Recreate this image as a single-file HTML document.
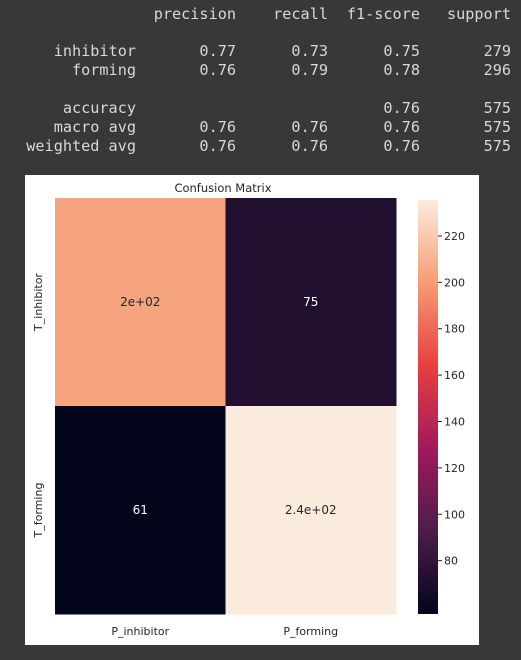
<!DOCTYPE html>
<html><head><meta charset="utf-8"><style>
body{margin:0;width:521px;height:660px;background:#383838;overflow:hidden;font-family:"DejaVu Sans Mono",monospace}
.ln{position:absolute;left:0;width:521px;height:19px;font-size:15.2px;color:#d8d8d8;white-space:pre}
.c{position:absolute;text-align:right}
</style></head><body>
<div>
<div class="ln" style="top:5px"><span class="c" style="right:285px">precision</span><span class="c" style="right:193px">recall</span><span class="c" style="right:101px">f1-score</span><span class="c" style="right:10px">support</span></div>
<div class="ln" style="top:42px"><span class="c" style="right:385px">inhibitor</span><span class="c" style="right:285px">0.77</span><span class="c" style="right:193px">0.73</span><span class="c" style="right:101px">0.75</span><span class="c" style="right:10px">279</span></div>
<div class="ln" style="top:61px"><span class="c" style="right:385px">forming</span><span class="c" style="right:285px">0.76</span><span class="c" style="right:193px">0.79</span><span class="c" style="right:101px">0.78</span><span class="c" style="right:10px">296</span></div>
<div class="ln" style="top:99px"><span class="c" style="right:385px">accuracy</span><span class="c" style="right:101px">0.76</span><span class="c" style="right:10px">575</span></div>
<div class="ln" style="top:118px"><span class="c" style="right:385px">macro avg</span><span class="c" style="right:285px">0.76</span><span class="c" style="right:193px">0.76</span><span class="c" style="right:101px">0.76</span><span class="c" style="right:10px">575</span></div>
<div class="ln" style="top:137px"><span class="c" style="right:385px">weighted avg</span><span class="c" style="right:285px">0.76</span><span class="c" style="right:193px">0.76</span><span class="c" style="right:101px">0.76</span><span class="c" style="right:10px">575</span></div>
</div>
<svg id="chart" style="position:absolute;left:25px;top:175px" width="454" height="470" font-family="DejaVu Sans, sans-serif">
<defs><linearGradient id="rk" x1="0" y1="1" x2="0" y2="0">
<stop offset="0" stop-color="#03051A"/><stop offset="0.2" stop-color="#4C1D4B"/><stop offset="0.4" stop-color="#A11A5B"/><stop offset="0.6" stop-color="#E83F3F"/><stop offset="0.8" stop-color="#F69C73"/><stop offset="1" stop-color="#FAEBDD"/>
</linearGradient></defs>
<rect width="454" height="470" fill="#fff"/>
<text x="198" y="17" text-anchor="middle" font-size="11.5" fill="#262626">Confusion Matrix</text>
<g id="cells"></g>
<rect x="393" y="25" width="20" height="414" fill="url(#rk)"/>
<g id="cbticks"></g>
</svg>
<script>
const rowLabels=["T_inhibitor","T_forming"];
const colLabels=["P_inhibitor","P_forming"];
const values=[[204,75],[61,235]];
const valueLabels=[["2e+02","75"],["61","2.4e+02"]];
const cbTicks=[80,100,120,140,160,180,200,220];
const NS="http://www.w3.org/2000/svg";
const flat=values.flat(),vmin=Math.min(...flat),vmax=Math.max(...flat);
const cbMin=vmin-4,cbMax=vmax+0.5;
const X0=30,Y0=23,W=341,H=416,cb0=25,cb1=439;
const stops=[[0,[3,5,26]],[0.2,[76,29,75]],[0.4,[161,26,91]],[0.6,[232,63,63]],[0.8,[246,156,115]],[1,[250,235,221]]];
function cmap(v){let t=(v-vmin)/(vmax-vmin);t=Math.max(0,Math.min(1,t));
for(let i=1;i<stops.length;i++){if(t<=stops[i][0]){const a=stops[i-1],b=stops[i],f=(t-a[0])/(b[0]-a[0]);
return "rgb("+a[1].map((c,k)=>Math.round(c+(b[1][k]-c)*f)).join(",")+")";}}return "rgb(250,235,221)";}
function lum(v){return (v-vmin)/(vmax-vmin)>0.5;}
function mk(tag,at,txt){const e=document.createElementNS(NS,tag);for(const k in at)e.setAttribute(k,at[k]);if(txt!=null)e.textContent=txt;return e;}
const g=document.getElementById('cells'),cw=W/colLabels.length,ch=H/rowLabels.length;
values.forEach((row,i)=>row.forEach((v,j)=>{
const r=mk('rect',{x:X0+j*cw,y:Y0+i*ch,width:cw+0.5,height:ch+0.5,fill:cmap(v)});


g.appendChild(r);
const t=mk('text',{x:X0+(j+.5)*cw,y:Y0+(i+.5)*ch+4,'text-anchor':'middle','font-size':12,fill:lum(v)?'#262626':'#fff'},valueLabels[i][j]);


g.appendChild(t);}));
colLabels.forEach((l,j)=>{const t=mk('text',{x:X0+(j+.5)*cw,y:460,'text-anchor':'middle','font-size':11,fill:'#262626'},l);


g.appendChild(t);});
rowLabels.forEach((l,i)=>{const y=Y0+(i+.5)*ch;const t=mk('text',{x:0,y:0,transform:'translate(17,'+y+') rotate(-90)','text-anchor':'middle','font-size':11,fill:'#262626'},l);


g.appendChild(t);});
const cg=document.getElementById('cbticks');
cbTicks.forEach(v=>{const y=cb1-(v-cbMin)/(cbMax-cbMin)*(cb1-cb0);
const l=mk('line',{x1:413,x2:417,y1:y,y2:y,stroke:'#262626'});


cg.appendChild(l);
const t=mk('text',{x:419,y:y+4,'font-size':11,fill:'#262626'},v);


cg.appendChild(t);});
</script>
</body></html>
